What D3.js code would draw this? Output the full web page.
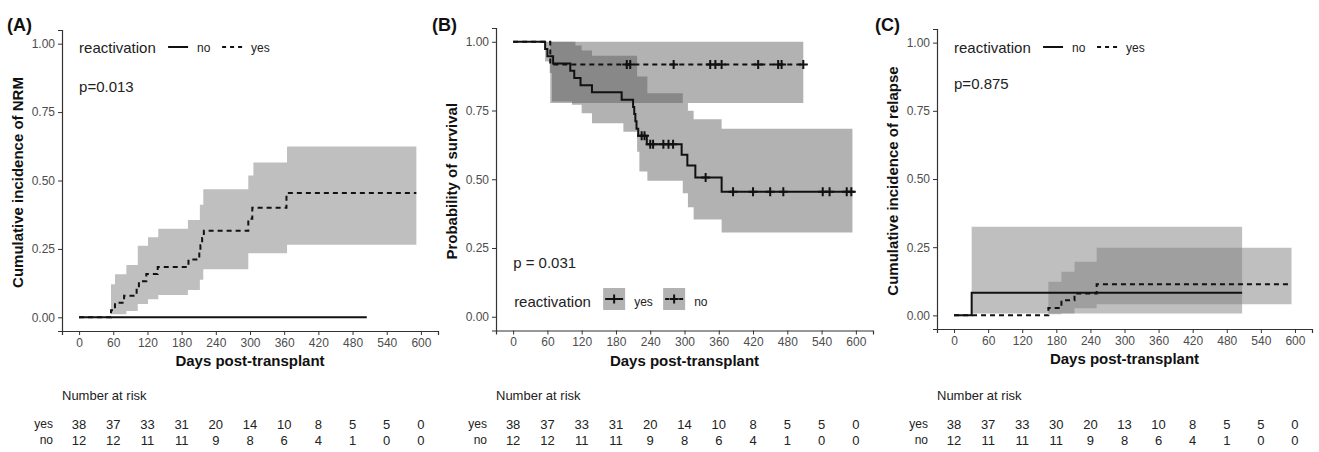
<!DOCTYPE html>
<html>
<head>
<meta charset="utf-8">
<script src="https://cdn.jsdelivr.net/npm/d3@7"></script>
<style>
  body { margin: 0; background: #fff; }
  svg { font-family: "Liberation Sans", Arial, sans-serif; }
</style>
</head>
<body>
<svg id="chart" width="1319" height="452"></svg>
<script>
const dayTicks = [0, 60, 120, 180, 240, 300, 360, 420, 480, 540, 600];
const probTicks = [0, 0.25, 0.5, 0.75, 1];

// (A) NRM
const nrmYesTime = [0, 56, 63, 79, 101, 105, 118, 138, 192, 211, 213, 216, 219, 297, 304, 364, 592];
const nrmYesEst = [0, 0.026, 0.053, 0.079, 0.105, 0.132, 0.158, 0.184, 0.211, 0.237, 0.263, 0.29, 0.316, 0.36, 0.40, 0.454, 0.454];
const nrmYesBandTime = [56, 63, 83, 103, 121, 139, 191, 212, 218, 297, 306, 365, 592];
const nrmYesLower = [0.011, 0.011, 0.023, 0.049, 0.066, 0.082, 0.1, 0.137, 0.176, 0.234, 0.234, 0.265, 0.265];
const nrmYesUpper = [0.121, 0.157, 0.191, 0.262, 0.293, 0.324, 0.356, 0.411, 0.468, 0.518, 0.566, 0.624, 0.624];
const nrmNoTime = [0, 505];
const nrmNoEst = [0, 0];

// (B) overall survival
const osYesTime = [0, 56, 60, 70, 100, 107, 118, 138, 190, 210, 212, 214, 216, 219, 234, 295, 305, 319, 365, 598];
const osYesEst = [1, 0.974, 0.947, 0.921, 0.895, 0.868, 0.842, 0.816, 0.789, 0.763, 0.737, 0.711, 0.684, 0.658, 0.627, 0.589, 0.55, 0.506, 0.455, 0.455];
const osYesCensor = [225, 230, 240, 245, 263, 272, 280, 337, 385, 420, 450, 473, 542, 554, 584, 592];
const osYesBandTime = [56, 64, 68, 103, 109, 120, 138, 193, 217, 221, 235, 297, 306, 316, 365, 594];
const osYesLower = [0.928, 0.886, 0.783, 0.771, 0.771, 0.74, 0.704, 0.673, 0.60, 0.528, 0.495, 0.449, 0.398, 0.354, 0.306, 0.306];
const osYesUpper = [1, 1, 1, 1, 0.986, 0.968, 0.949, 0.949, 0.874, 0.874, 0.813, 0.777, 0.749, 0.718, 0.684, 0.684];
const osNoTime = [0, 65, 511];
const osNoEst = [1, 0.917, 0.917];
const osNoCensor = [199, 205, 281, 345, 354, 365, 429, 464, 470, 508];
const osNoBandTime = [65, 508];
const osNoLower = [0.777, 0.777];
const osNoUpper = [1, 1];

// (C) relapse
const relNoTime = [0, 31, 507];
const relNoEst = [0, 0.083, 0.083];
const relNoBandTime = [31, 507];
const relNoLower = [0.007, 0.007];
const relNoUpper = [0.325, 0.325];
const relYesTime = [0, 166, 189, 212, 251, 594];
const relYesEst = [0, 0.027, 0.055, 0.08, 0.114, 0.114];
const relYesBandTime = [166, 189, 212, 251, 594];
const relYesLower = [0.004, 0.007, 0.026, 0.041, 0.041];
const relYesUpper = [0.123, 0.16, 0.197, 0.248, 0.248];

// numbers at risk
const riskAYes = [38, 37, 33, 31, 20, 14, 10, 8, 5, 5, 0];
const riskANo = [12, 12, 11, 11, 9, 8, 6, 4, 1, 0, 0];
const riskBYes = [38, 37, 33, 31, 20, 14, 10, 8, 5, 5, 0];
const riskBNo = [12, 12, 11, 11, 9, 8, 6, 4, 1, 0, 0];
const riskCYes = [38, 37, 33, 30, 20, 13, 10, 8, 5, 5, 0];
const riskCNo = [12, 11, 11, 11, 9, 8, 6, 4, 1, 0, 0];

const zip2 = (t, v) => t.map((d, i) => ({ t: d, v: v[i] }));
const zip3 = (t, lo, hi) => t.map((d, i) => ({ t: d, lo: lo[i], hi: hi[i] }));

const svg = d3.select('#chart');

function drawPanel(cfg) {
  const g = svg.append('g');
  const x = d3.scaleLinear().domain([-30, 630]).range([cfg.left, cfg.right]);
  const y = d3.scaleLinear().domain([-0.05, 1.05]).range([cfg.bottom, cfg.top]);

  // bands
  const area = d3.area().curve(d3.curveStepAfter)
    .x(d => x(d.t)).y0(d => y(d.lo)).y1(d => y(d.hi));
  cfg.bands.forEach(b => {
    g.append('path').attr('d', area(b))
      .attr('fill', cfg.bandFill).attr('fill-opacity', cfg.bandOpacity);
  });

  // curves
  const line = d3.line().curve(d3.curveStepAfter).x(d => x(d.t)).y(d => y(d.v));
  cfg.curves.forEach(c => {
    g.append('path').attr('d', line(c.pts))
      .attr('fill', 'none').attr('stroke', '#111').attr('stroke-width', 2)
      .attr('stroke-dasharray', c.dashed ? '5,4' : null);
    (c.censor || []).forEach(t => {
      const i = d3.bisectRight(c.pts.map(p => p.t), t) - 1;
      const cx = x(t), cy = y(c.pts[Math.max(i, 0)].v);
      g.append('path').attr('d', `M${cx - 4.5},${cy}H${cx + 4.5}M${cx},${cy - 4.5}V${cy + 4.5}`)
        .attr('stroke', '#111').attr('stroke-width', 2);
    });
  });

  // axes
  const xAxis = g.append('g').attr('transform', `translate(0,${cfg.bottom})`)
    .call(d3.axisBottom(x).tickValues(dayTicks).tickSize(4).tickPadding(3));
  const yAxis = g.append('g').attr('transform', `translate(${cfg.left},0)`)
    .call(d3.axisLeft(y).tickValues(probTicks).tickFormat(d3.format('.2f')).tickSize(4).tickPadding(3));
  [xAxis, yAxis].forEach(a => {
    a.select('.domain').attr('stroke', '#333').attr('stroke-width', 1.2);
    a.selectAll('.tick line').attr('stroke', '#333');
    a.selectAll('.tick text').attr('fill', '#4d4d4d').attr('font-size', 12)
      .attr('font-family', '"Liberation Sans", Arial, sans-serif');
  });

  // titles
  g.append('text').attr('x', cfg.tagX).attr('y', 31)
    .attr('font-size', 18).attr('font-weight', 'bold').attr('fill', '#111').text(cfg.tag);
  g.append('text')
    .attr('transform', `translate(${cfg.left - 44},${(cfg.top + cfg.bottom) / 2 + 2}) rotate(-90)`)
    .attr('text-anchor', 'middle').attr('dy', '0.35em')
    .attr('font-size', 15).attr('font-weight', 'bold').attr('fill', '#111').text(cfg.yLabel);
  g.append('text').attr('x', (x(-30) + x(630)) / 2).attr('y', cfg.bottom + 30)
    .attr('dy', '0.35em').attr('text-anchor', 'middle')
    .attr('font-size', 15).attr('font-weight', 'bold').attr('fill', '#111').text('Days post-transplant');

  // p value
  g.append('text').attr('x', x(0)).attr('y', cfg.pY).attr('dy', '0.35em')
    .attr('font-size', 15).attr('fill', '#222').text(cfg.pText);

  // legend
  const x0 = x(0);
  if (cfg.boxLegend) {
    const ly = cfg.legendY;
    g.append('text').attr('x', x0 + 1).attr('y', ly + 3).attr('dy', '0.35em')
      .attr('font-size', 15).attr('fill', '#222').text('reactivation');
    cfg.legend.forEach((k, i) => {
      const bx = x0 + 90 + i * 60;
      g.append('rect').attr('x', bx).attr('y', ly - 11).attr('width', 22).attr('height', 22)
        .attr('fill', cfg.bandFill).attr('fill-opacity', cfg.bandOpacity);
      g.append('line').attr('x1', bx + 2).attr('x2', bx + 20).attr('y1', ly).attr('y2', ly)
        .attr('stroke', '#111').attr('stroke-width', 2)
        .attr('stroke-dasharray', k.dashed ? '4,3' : null);
      g.append('path').attr('d', `M${bx + 6.5},${ly}H${bx + 15.5}M${bx + 11},${ly - 4.5}V${ly + 4.5}`)
        .attr('stroke', '#111').attr('stroke-width', 2);
      g.append('text').attr('x', bx + 31).attr('y', ly + 3).attr('dy', '0.35em')
        .attr('font-size', 12).attr('fill', '#222').text(k.name);
    });
  } else {
    const ly = cfg.legendY;
    g.append('text').attr('x', x0).attr('y', ly).attr('dy', '0.35em')
      .attr('font-size', 15).attr('fill', '#222').text('reactivation');
    cfg.legend.forEach((k, i) => {
      const lx = x0 + 89 + i * 54;
      g.append('line').attr('x1', lx).attr('x2', lx + 20).attr('y1', ly - 1).attr('y2', ly - 1)
        .attr('stroke', '#111').attr('stroke-width', 2)
        .attr('stroke-dasharray', k.dashed ? '4,4' : null);
      g.append('text').attr('x', lx + 29).attr('y', ly).attr('dy', '0.35em')
        .attr('font-size', 12).attr('fill', '#222').text(k.name);
    });
  }

  // number at risk
  g.append('text').attr('x', cfg.left).attr('y', 395).attr('dy', '0.35em')
    .attr('font-size', 13).attr('fill', '#222').text('Number at risk');
  [['yes', cfg.riskYes, 424], ['no', cfg.riskNo, 440]].forEach(([lab, vals, ry]) => {
    g.append('text').attr('x', cfg.left - 9).attr('y', ry).attr('dy', '0.35em')
      .attr('text-anchor', 'end').attr('font-size', 12).attr('fill', '#222').text(lab);
    g.selectAll(null).data(vals).enter().append('text')
      .attr('x', (d, i) => x(dayTicks[i])).attr('y', ry).attr('dy', '0.35em')
      .attr('text-anchor', 'middle').attr('font-size', 13).attr('fill', '#222')
      .text(d => d);
  });
}

drawPanel({
  tag: '(A)', tagX: 7, left: 62, right: 438, top: 30, bottom: 331,
  yLabel: 'Cumulative incidence of NRM', pText: 'p=0.013', pY: 87, legendY: 48,
  bandFill: '#7f7f7f', bandOpacity: 0.5,
  bands: [zip3(nrmYesBandTime, nrmYesLower, nrmYesUpper)],
  curves: [
    { pts: zip2(nrmYesTime, nrmYesEst), dashed: true },
    { pts: zip2(nrmNoTime, nrmNoEst), dashed: false }
  ],
  legend: [{ name: 'no', dashed: false }, { name: 'yes', dashed: true }],
  riskYes: riskAYes, riskNo: riskANo
});

drawPanel({
  tag: '(B)', tagX: 432, left: 496, right: 873, top: 28, bottom: 330.5,
  yLabel: 'Probability of survival', pText: 'p = 0.031', pY: 263, legendY: 299, boxLegend: true,
  bandFill: '#555', bandOpacity: 0.45,
  bands: [zip3(osYesBandTime, osYesLower, osYesUpper), zip3(osNoBandTime, osNoLower, osNoUpper)],
  curves: [
    { pts: zip2(osNoTime, osNoEst), dashed: true, censor: osNoCensor },
    { pts: zip2(osYesTime, osYesEst), dashed: false, censor: osYesCensor }
  ],
  legend: [{ name: 'yes', dashed: false }, { name: 'no', dashed: true }],
  riskYes: riskBYes, riskNo: riskBNo
});

drawPanel({
  tag: '(C)', tagX: 875, left: 937, right: 1312, top: 29, bottom: 329,
  yLabel: 'Cumulative incidence of relapse', pText: 'p=0.875', pY: 84, legendY: 48,
  bandFill: '#7f7f7f', bandOpacity: 0.5,
  bands: [zip3(relNoBandTime, relNoLower, relNoUpper), zip3(relYesBandTime, relYesLower, relYesUpper)],
  curves: [
    { pts: zip2(relYesTime, relYesEst), dashed: true },
    { pts: zip2(relNoTime, relNoEst), dashed: false }
  ],
  legend: [{ name: 'no', dashed: false }, { name: 'yes', dashed: true }],
  riskYes: riskCYes, riskNo: riskCNo
});
</script>
</body>
</html>
